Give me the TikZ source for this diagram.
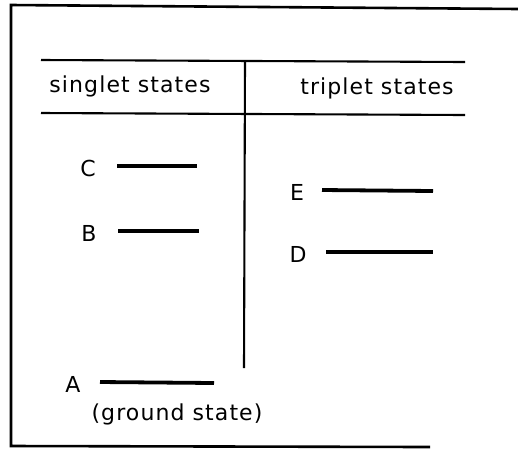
\documentclass[tikz,border=0pt]{standalone}
\usepackage{fontspec}
\setmainfont{DejaVu Sans}[LetterSpace=5]
\begin{document}
\begin{tikzpicture}[x=1pt,y=-1pt,
  frame/.style={line width=2.6pt},
  rule/.style={line width=2.1pt},
  level/.style={line width=3.8pt},
  lbl/.style={font=\fontsize{22}{26}\selectfont, inner sep=0pt}]
\useasboundingbox (0,0) rectangle (518,451);
% frame
\coordinate (f1) at (518,9);
\coordinate (f2) at (11,5);
\coordinate (f3) at (11,446);
\coordinate (f4) at (430,447);
\draw[frame] (f1) -- (f2) -- (f3) -- (f4);
% header rules
\coordinate (h1l) at (41,60); \coordinate (h1r) at (465,62);
\coordinate (h2l) at (41,113); \coordinate (h2r) at (465,115);
\draw[rule] (h1l) -- (h1r);
\draw[rule] (h2l) -- (h2r);
\coordinate (vt) at (245,60); \coordinate (vb) at (244,368);
\draw[rule] (vt) -- (vb);
\node[lbl] (sing) at (130,86) {singlet states};
\node[lbl] (trip) at (377,88) {triplet states};
% levels
\node[lbl] (C) at (88,168) {C};
\coordinate (Cs) at (117,166); \coordinate (Ce) at (197,166);
\draw[level] (Cs) -- (Ce);
\node[lbl] (B) at (89,233) {B};
\coordinate (Bs) at (118,231); \coordinate (Be) at (199,231);
\draw[level] (Bs) -- (Be);
\node[lbl] (E) at (297,192) {E};
\coordinate (Es) at (322,190); \coordinate (Ee) at (433,191);
\draw[level] (Es) -- (Ee);
\node[lbl] (D) at (298,254) {D};
\coordinate (Ds) at (326,252); \coordinate (De) at (433,252);
\draw[level] (Ds) -- (De);
\node[lbl] (A) at (73,384) {A};
\coordinate (As) at (100,382); \coordinate (Ae) at (214,383);
\draw[level] (As) -- (Ae);
\node[lbl] (gs) at (177,414) {(ground state)};
\end{tikzpicture}
\end{document}
